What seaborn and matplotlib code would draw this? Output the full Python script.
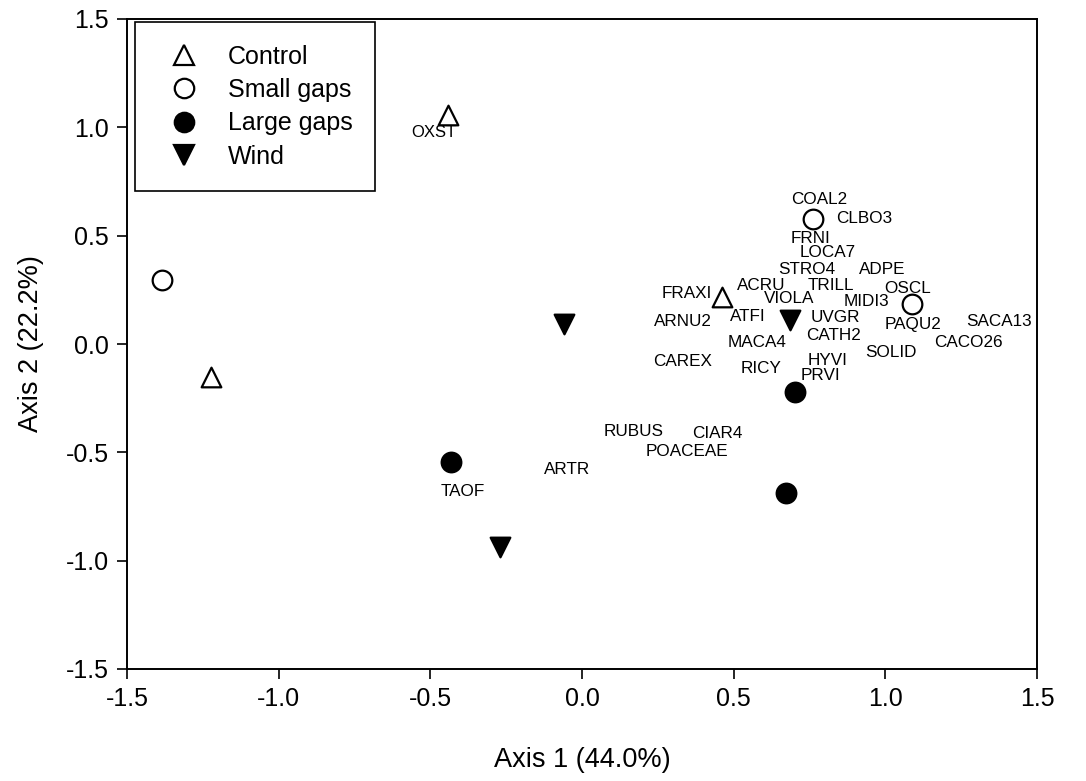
import matplotlib
matplotlib.use("Agg")
import matplotlib.pyplot as plt
from matplotlib.lines import Line2D
import seaborn as sns
import pandas as pd

# ---- site scores (Axis 1, Axis 2) ----
groups = ["Control", "Small gaps", "Large gaps", "Wind"]
control_x = [-0.442, -1.223, 0.462]
control_y = [1.057, -0.152, 0.217]
small_x = [-1.385, 0.761, 1.088]
small_y = [0.295, 0.577, 0.185]
large_x = [-0.432, 0.702, 0.673]
large_y = [-0.544, -0.222, -0.688]
wind_x = [-0.059, 0.686, -0.270]
wind_y = [0.092, 0.111, -0.937]

# ---- species scores ----
species = ["COAL2", "CLBO3", "FRNI", "LOCA7", "STRO4", "ADPE", "ACRU", "TRILL",
           "OSCL", "FRAXI", "VIOLA", "MIDI3", "ATFI", "UVGR", "ARNU2", "PAQU2",
           "SACA13", "CATH2", "MACA4", "CACO26", "SOLID", "CAREX", "HYVI",
           "RICY", "PRVI", "RUBUS", "CIAR4", "POACEAE", "ARTR", "TAOF"]
species_x = [0.781, 0.930, 0.752, 0.811, 0.742, 0.989, 0.590, 0.821,
             1.072, 0.346, 0.682, 0.939, 0.547, 0.834, 0.333, 1.091,
             1.375, 0.828, 0.577, 1.273, 1.019, 0.333, 0.808,
             0.590, 0.785, 0.171, 0.445, 0.346, -0.049, -0.392]
species_y = [0.665, 0.577, 0.488, 0.422, 0.342, 0.346, 0.268, 0.268,
             0.258, 0.235, 0.208, 0.198, 0.129, 0.120, 0.102, 0.092,
             0.102, 0.037, 0.005, 0.005, -0.037, -0.083, -0.076,
             -0.115, -0.145, -0.406, -0.411, -0.494, -0.577, -0.683]
small_label = "OXST"
small_label_x = -0.488
small_label_y = 0.974

x_ticks = [-1.5, -1.0, -0.5, 0.0, 0.5, 1.0, 1.5]
y_ticks = [-1.5, -1.0, -0.5, 0.0, 0.5, 1.0, 1.5]

sns.set_style("white")
plt.rcParams["font.family"] = ["Liberation Sans", "DejaVu Sans"]
plt.rcParams["text.color"] = "black"
plt.rcParams["axes.labelcolor"] = "black"
plt.rcParams["xtick.color"] = "black"
plt.rcParams["ytick.color"] = "black"

fig = plt.figure(figsize=(10.86, 7.81), dpi=100)
ax = fig.add_axes([127 / 1086, 1 - 669 / 781, 910 / 1086, 650 / 781])

sites = pd.DataFrame({
    "x": control_x + small_x + large_x + wind_x,
    "y": control_y + small_y + large_y + wind_y,
    "group": ["Control"] * 3 + ["Small gaps"] * 3 + ["Large gaps"] * 3 + ["Wind"] * 3,
})

styles = {
    "Control": dict(marker="^", facecolor="white"),
    "Small gaps": dict(marker="o", facecolor="white"),
    "Large gaps": dict(marker="o", facecolor="black"),
    "Wind": dict(marker="v", facecolor="black"),
}
for g in groups:
    sub = sites[sites["group"] == g]
    st = styles[g]
    sns.scatterplot(data=sub, x="x", y="y", ax=ax, marker=st["marker"],
                    s=200, facecolor=st["facecolor"], edgecolor="black",
                    linewidth=1.6, zorder=3, legend=False)

for name, sx, sy in zip(species, species_x, species_y):
    ax.text(sx, sy, name, ha="center", va="center", fontsize=12.3, color="black", zorder=4)
ax.text(small_label_x, small_label_y, small_label, ha="center", va="center",
        fontsize=12, color="black", zorder=4)

ax.set_xlim(-1.5, 1.5)
ax.set_ylim(-1.5, 1.5)
ax.set_xticks(x_ticks)
ax.set_yticks(y_ticks)
ax.set_xticklabels([f"{t:.1f}" for t in x_ticks], fontsize=18)
ax.set_yticklabels([f"{t:.1f}" for t in y_ticks], fontsize=18)
ax.tick_params(axis="both", direction="out", length=7, width=1.2, color="black",
               labelcolor="black", bottom=True, left=True, top=False, right=False, pad=6)
ax.set_xlabel("Axis 1 (44.0%)", fontsize=19.5, labelpad=26, color="black")
ax.set_ylabel("Axis 2 (22.2%)", fontsize=19.5, labelpad=16, color="black")
for sp in ax.spines.values():
    sp.set_color("black")
    sp.set_linewidth(1.4)
    sp.set_visible(True)

handles = []
for g in groups:
    st = styles[g]
    handles.append(Line2D([], [], linestyle="none", marker=st["marker"], markersize=14,
                          markerfacecolor=st["facecolor"], markeredgecolor="black",
                          markeredgewidth=1.6, label=g))
leg = ax.legend(handles=handles, loc="upper left", bbox_to_anchor=(0.0088, 0.995),
                borderaxespad=0, frameon=True, fancybox=False, fontsize=18,
                labelspacing=0.37, handlelength=2.08, handletextpad=0.72,
                borderpad=0.9, framealpha=1)
leg.get_frame().set_edgecolor("black")
leg.get_frame().set_linewidth(1.2)
for t in leg.get_texts():
    t.set_color("black")

fig.savefig("out.png", dpi=100, facecolor="white")
